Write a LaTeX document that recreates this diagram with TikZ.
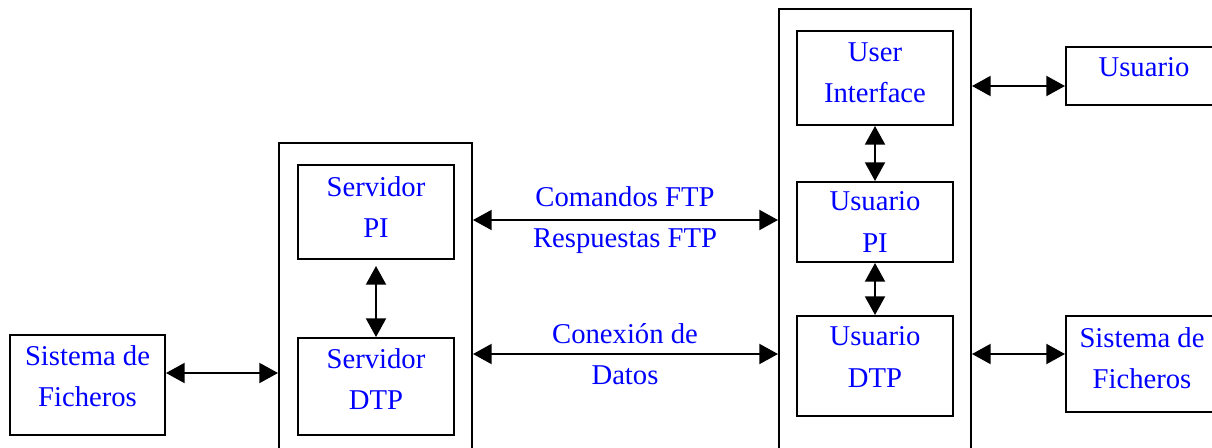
\documentclass[tikz,border=0pt]{standalone}
\usepackage{fontspec}
\setmainfont{Liberation Serif}
\usetikzlibrary{arrows.meta,positioning,calc}
\newcommand{\pxu}{0.75pt}
\tikzset{
  >={Triangle[length=14pt,width=15pt]},
  biarrow/.style={<->, line width=1.5pt},
}

\begin{document}
\begin{tikzpicture}[
  x=0.75pt, y=-0.75pt,
  box/.style={draw, line width=1.5pt, minimum width=156*\pxu, inner sep=0pt},
  outer/.style={draw, line width=1.5pt, inner sep=0pt},
  txt/.style={text=blue, align=center, inner sep=0pt, font=\fontsize{21.5}{31}\selectfont}
]
\clip (0,0) rectangle (1212,447);

% outer boxes
\node[outer, minimum width=193*\pxu, minimum height=330*\pxu] (srv) at (375.5,308) {};
\node[outer, minimum width=192*\pxu, minimum height=464*\pxu] (cli) at (875,241) {};

% server side
\node[box, minimum height=94*\pxu] (spi) at (376,212) {};
\node[box, minimum height=97*\pxu] (sdtp) at (376,386.5) {};
\node[box, minimum width=155*\pxu, minimum height=100*\pxu] (sfs) at (87.5,385) {};
\node[txt] (spi-t) at ([yshift=3.75pt]spi.center) {Servidor\\PI};
\node[txt] (sdtp-t) at ([yshift=5.6pt]sdtp.center) {Servidor\\DTP};
\node[txt] (sfs-t) at ([yshift=6.4pt]sfs.center) {Sistema de\\Ficheros};

% user side
\node[box, minimum height=94*\pxu] (ui) at (875,78) {};
\node[box, minimum height=80*\pxu] (upi) at (875,222) {};
\node[box, minimum height=100*\pxu] (udtp) at (875,366) {};
\node[box, minimum height=58*\pxu] (usr) at (1144,76) {};
\node[box, minimum width=152*\pxu, minimum height=96*\pxu] (ufs) at (1142,364) {};
\node[txt] (ui-t) at ([yshift=4.1pt]ui.center) {User\\Interface};
\node[txt] (upi-t) at (upi.center) {Usuario\\PI};
\node[txt] (udtp-t) at ([yshift=6.75pt]udtp.center) {Usuario\\DTP};
\node[txt] (usr-t) at ([yshift=6.75pt]usr.center) {Usuario};
\node[txt] (ufs-t) at ([yshift=4.5pt]ufs.center) {Sistema de\\Ficheros};

% connections
\coordinate (ftp) at (625,220);
\coordinate (dat) at (625,354);
\coordinate (fsl) at (220,373);
\coordinate (usl) at (1020,86);
\coordinate (fsr) at (1020,354);

\draw[biarrow] (srv.east |- ftp) -- (cli.west |- ftp);
\draw[biarrow] (srv.east |- dat) -- (cli.west |- dat);
\node[txt] (ftp-t) at (ftp) {Comandos FTP\\Respuestas FTP};
\node[txt] (dat-t) at (dat) {Conexión de\\Datos};

\draw[biarrow] (sfs.east |- fsl) -- (srv.west |- fsl);
\draw[biarrow] (cli.east |- usl) -- (usr.west |- usl);
\draw[biarrow] (cli.east |- fsr) -- (ufs.west |- fsr);

\draw[biarrow, shorten <=4.5pt] (spi) -- (sdtp);
\draw[biarrow] (ui) -- (upi);
\draw[biarrow] (upi) -- (udtp);

\end{tikzpicture}
\end{document}
